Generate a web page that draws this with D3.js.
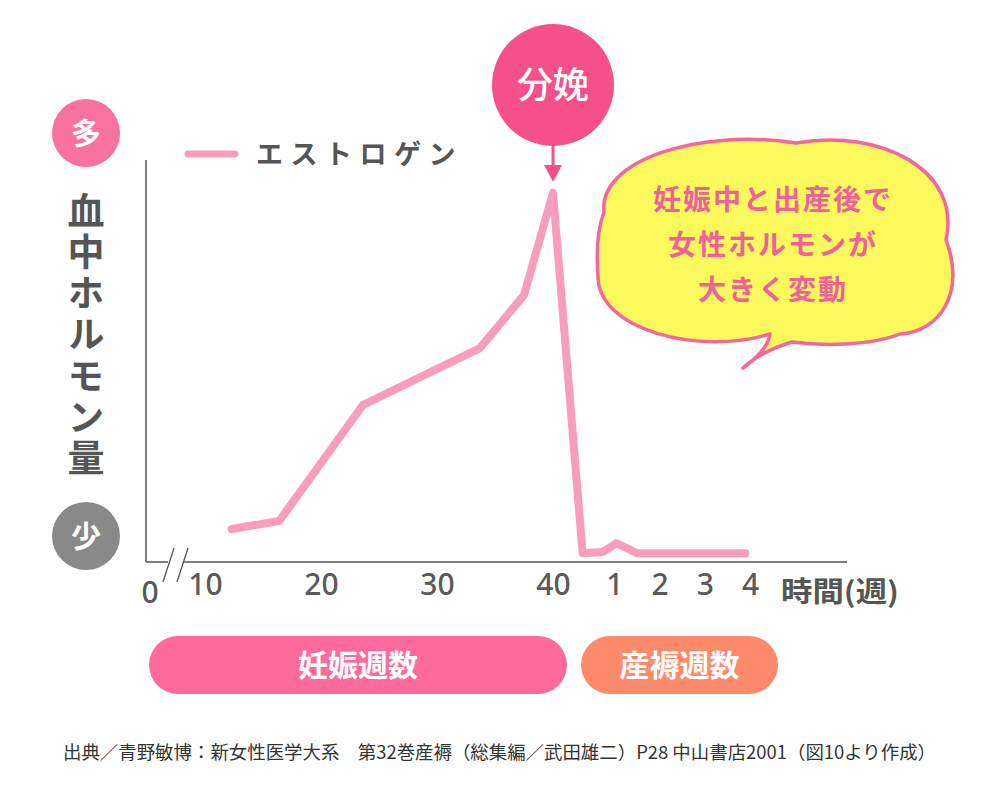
<!DOCTYPE html>
<html>
<head>
<meta charset="utf-8">
<script src="https://cdn.jsdelivr.net/npm/d3@7"></script>
<style>
  body { margin: 0; background: #fff; }
  svg { display: block; }
</style>
</head>
<body>
<div id="chart"></div>
<script>
// data (hormone level, arbitrary 0-100)
let pregWeeks = [12.3, 16.4, 23.6, 33.7, 37.5, 40]
let pregLevel = [8.2, 10.2, 39, 53.2, 66.4, 91.8]
let postWeeks = [0.3, 0.75, 1.05, 1.5, 3.9]
let postLevel = [2.2, 2.5, 4.7, 2.2, 2.2]

let pregTicks = [10, 20, 30, 40]
let postTicks = [1, 2, 3, 4]
let seriesName = 'エストロゲン'
let yLabel = '血中ホルモン量'
let bubbleLines = ['妊娠中と出産後で', '女性ホルモンが', '大きく変動']
let source = '出典／青野敏博：新女性医学大系　第32巻産褥（総集編／武田雄二）P28 中山書店2001（図10より作成）'

let jp = '"Noto Sans CJK JP", sans-serif'
let grey = '#555'
let lineColor = '#f99dbf'

let svg = d3.select('#chart').append('svg')
.attr('width', 989)
.attr('height', 812)

let x = d3.scaleLinear().domain([10, 40]).range([205, 553])
let xPost = d3.scaleLinear().domain([0, 4]).range([569, 750])
let y = d3.scaleLinear().domain([0, 100]).range([562, 160])

let x0 = 146, xEnd = 847

//Axes lines
svg.append('line')
.attr('x1', x0).attr('x2', x0)
.attr('y1', y(100)).attr('y2', y(0))
.attr('stroke', grey).attr('stroke-width', 1.5)

svg.append('line')
.attr('x1', x0).attr('x2', 168)
.attr('y1', y(0)).attr('y2', y(0))
.attr('stroke', grey).attr('stroke-width', 1.5)

svg.append('line')
.attr('x1', 183).attr('x2', xEnd)
.attr('y1', y(0)).attr('y2', y(0))
.attr('stroke', grey).attr('stroke-width', 1.5)

//Break marks
svg.append('line')
.attr('x1', 174).attr('y1', 548).attr('x2', 163).attr('y2', 582)
.attr('stroke', grey).attr('stroke-width', 1.3)
svg.append('line')
.attr('x1', 188).attr('y1', 548).attr('x2', 177).attr('y2', 582)
.attr('stroke', grey).attr('stroke-width', 1.3)

//Tick labels via axes
let tickFont = '"Noto Sans", sans-serif'
svg.append('g')
.attr('transform', 'translate(0,' + y(0) + ')')
.call(d3.axisBottom(x).tickValues(pregTicks).tickSize(0).tickPadding(12).tickFormat(d3.format('d')))
svg.append('g')
.attr('transform', 'translate(0,' + y(0) + ')')
.call(d3.axisBottom(xPost).tickValues(postTicks).tickSize(0).tickPadding(12).tickFormat(d3.format('d')))

svg.selectAll('.domain').remove()
svg.selectAll('.tick text')
.attr('fill', '#5a5a5a')
.style('font-family', tickFont)
.style('font-size', '30px')
.style('font-weight', 500)

svg.append('text')
.attr('x', 150).attr('y', 603)
.attr('text-anchor', 'middle')
.attr('fill', '#5a5a5a')
.style('font-family', tickFont)
.style('font-size', '30px')
.style('font-weight', 500)
.text('0')

svg.append('text')
.attr('x', 781).attr('y', 602)
.attr('fill', grey)
.attr('textLength', 118)
.attr('lengthAdjust', 'spacingAndGlyphs')
.style('font-family', jp)
.style('font-size', '28px')
.style('font-weight', 700)
.text('時間(週)')

//Estrogen line
let pts = pregWeeks.map((w, i) => [x(w), y(pregLevel[i])])
.concat(postWeeks.map((w, i) => [xPost(w), y(postLevel[i])]))

svg.append('path')
.attr('d', d3.line()(pts))
.attr('fill', 'none')
.attr('stroke', lineColor)
.attr('stroke-width', 8)
.attr('stroke-linejoin', 'round')
.attr('stroke-linecap', 'round')

//Legend
svg.append('line')
.attr('x1', 188).attr('x2', 235)
.attr('y1', 154).attr('y2', 154)
.attr('stroke', lineColor).attr('stroke-width', 7)
.attr('stroke-linecap', 'round')

svg.append('text')
.attr('x', 256).attr('y', 164)
.attr('fill', grey)
.style('font-family', jp)
.style('font-size', '27px')
.style('font-weight', 700)
.style('letter-spacing', '7.5px')
.text(seriesName)

//多 / 少 markers
svg.append('circle').attr('cx', 86).attr('cy', 133).attr('r', 34).attr('fill', '#f7729e')
svg.append('text')
.attr('x', 86).attr('y', 144)
.attr('text-anchor', 'middle')
.attr('fill', '#fff')
.style('font-family', jp)
.style('font-size', '30px')
.style('font-weight', 700)
.text('多')

svg.append('circle').attr('cx', 86).attr('cy', 536).attr('r', 34).attr('fill', '#898989')
svg.append('text')
.attr('x', 86).attr('y', 547)
.attr('text-anchor', 'middle')
.attr('fill', '#fff')
.style('font-family', jp)
.style('font-size', '30px')
.style('font-weight', 700)
.text('少')

//Vertical y label
svg.append('text')
.attr('x', 86).attr('y', 192)
.attr('fill', grey)
.style('writing-mode', 'vertical-rl')
.style('font-family', jp)
.style('font-size', '37px')
.style('font-weight', 700)
.style('letter-spacing', '4.3px')
.text(yLabel)

//分娩 marker
let peakX = x(40)
svg.append('circle').attr('cx', peakX).attr('cy', 85).attr('r', 61).attr('fill', '#f5508a')
svg.append('text')
.attr('x', peakX).attr('y', 98)
.attr('text-anchor', 'middle')
.attr('fill', '#fff')
.style('font-family', jp)
.style('font-size', '36px')
.style('font-weight', 500)
.text('分娩')

svg.append('line')
.attr('x1', peakX).attr('x2', peakX)
.attr('y1', 140).attr('y2', 168)
.attr('stroke', '#f5508a').attr('stroke-width', 3)
svg.append('path')
.attr('d', 'M' + (peakX - 9) + ',165 L' + (peakX + 9) + ',165 L' + peakX + ',182 Z')
.attr('fill', '#f5508a')

//Speech bubble
let cloud = 'M604,212 C598,160 700,128 796,143 ' +
  'C880,128 962,170 946,240 ' +
  'C966,292 940,332 900,334 ' +
  'C870,346 822,346 792,342 ' +
  'Q760,352 743,368 ' +
  'Q768,350 770,334 ' +
  'C700,356 596,330 598,275 ' +
  'C596,250 598,228 604,212 Z'

svg.append('path')
.attr('d', cloud)
.attr('fill', '#fcf95c')
.attr('stroke', '#f2679c')
.attr('stroke-width', 3.5)
.attr('stroke-linejoin', 'round')

svg.selectAll('.bub').data(bubbleLines).enter()
.append('text')
.attr('class', 'bub')
.attr('x', 773)
.attr('y', (d, i) => 210 + i * 45)
.attr('text-anchor', 'middle')
.attr('fill', '#f0609a')
.style('font-family', jp)
.style('font-size', '28px')
.style('font-weight', 700)
.style('letter-spacing', '2px')
.text(d => d)

//Period bars
let bars = [
  {label: '妊娠週数', x1: 149, x2: 567, color: '#fe6a9c'},
  {label: '産褥週数', x1: 581, x2: 778, color: '#fd8b6b'}
]
svg.selectAll('.bar').data(bars).enter()
.append('rect')
.attr('class', 'bar')
.attr('x', d => d.x1)
.attr('y', 636)
.attr('width', d => d.x2 - d.x1)
.attr('height', 58)
.attr('rx', 29)
.attr('fill', d => d.color)

svg.selectAll('.barlab').data(bars).enter()
.append('text')
.attr('class', 'barlab')
.attr('x', d => (d.x1 + d.x2) / 2)
.attr('y', 676)
.attr('text-anchor', 'middle')
.attr('fill', '#fff')
.style('font-family', jp)
.style('font-size', '30px')
.style('font-weight', 700)
.text(d => d.label)

//Source
svg.append('text')
.attr('x', 63).attr('y', 759)
.attr('fill', '#333')
.attr('textLength', 873)
.attr('lengthAdjust', 'spacingAndGlyphs')
.style('font-family', jp)
.style('font-size', '18px')
.text(source)
</script>
</body>
</html>
